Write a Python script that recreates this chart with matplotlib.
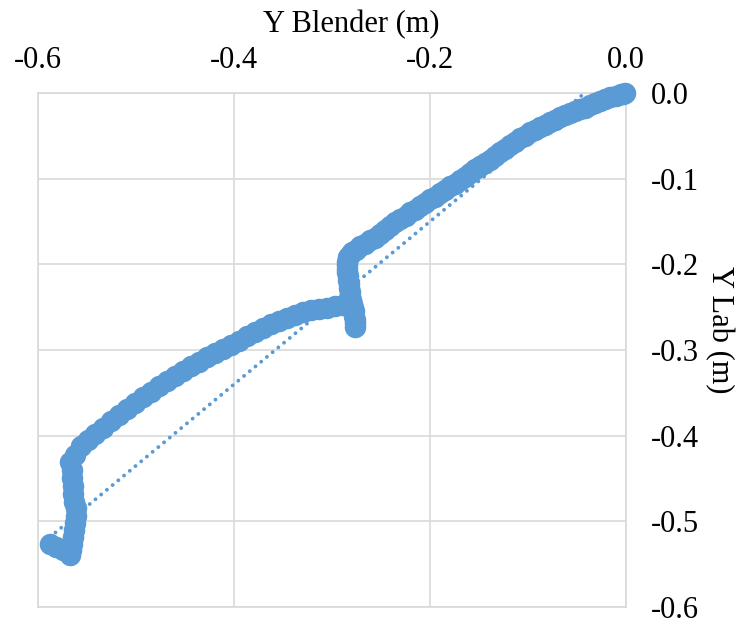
import numpy as np
import matplotlib.pyplot as plt

# points, in metres
upper_x = [-0.001, -0.003, -0.005, -0.010, -0.016, -0.021, -0.027, -0.032, -0.037, -0.042,
           -0.047, -0.052, -0.057, -0.062, -0.067, -0.072, -0.078, -0.083, -0.088, -0.093,
           -0.098, -0.103, -0.108, -0.113, -0.118, -0.123, -0.129, -0.134, -0.139, -0.144,
           -0.149, -0.154, -0.159, -0.164, -0.169, -0.174, -0.180, -0.185, -0.190, -0.195,
           -0.200, -0.205, -0.210, -0.215, -0.220, -0.225, -0.231, -0.236, -0.241, -0.246,
           -0.251, -0.256, -0.261, -0.266, -0.271, -0.276, -0.280, -0.282, -0.284]
upper_y = [0.000, -0.001, -0.001, -0.003, -0.005, -0.007, -0.009, -0.012, -0.014, -0.017,
           -0.019, -0.021, -0.023, -0.026, -0.028, -0.031, -0.034, -0.037, -0.040, -0.043,
           -0.046, -0.050, -0.053, -0.057, -0.061, -0.065, -0.069, -0.074, -0.078, -0.082,
           -0.085, -0.089, -0.093, -0.098, -0.102, -0.106, -0.109, -0.113, -0.117, -0.121,
           -0.124, -0.128, -0.132, -0.136, -0.139, -0.143, -0.147, -0.151, -0.155, -0.160,
           -0.165, -0.169, -0.172, -0.176, -0.179, -0.183, -0.186, -0.189, -0.192]

step_x = [-0.285, -0.285, -0.285, -0.285, -0.284, -0.284, -0.283, -0.283, -0.282,
          -0.282, -0.281, -0.280, -0.279, -0.278, -0.278, -0.277, -0.277, -0.277]
step_y = [-0.197, -0.201, -0.205, -0.209, -0.214, -0.218, -0.223, -0.228, -0.232,
          -0.237, -0.242, -0.246, -0.251, -0.255, -0.260, -0.265, -0.269, -0.273]

lower_x = [-0.289, -0.297, -0.305, -0.313, -0.321, -0.330, -0.338, -0.346, -0.354, -0.362,
           -0.370, -0.379, -0.387, -0.395, -0.403, -0.411, -0.419, -0.428, -0.436, -0.444,
           -0.452, -0.460, -0.468, -0.477, -0.485, -0.493, -0.501, -0.509, -0.517, -0.526,
           -0.534, -0.542, -0.549, -0.556, -0.562, -0.567]
lower_y = [-0.247, -0.249, -0.251, -0.252, -0.253, -0.256, -0.259, -0.263, -0.266, -0.270,
           -0.274, -0.279, -0.284, -0.289, -0.294, -0.299, -0.303, -0.308, -0.314, -0.319,
           -0.324, -0.330, -0.336, -0.342, -0.349, -0.355, -0.362, -0.369, -0.376, -0.383,
           -0.391, -0.398, -0.405, -0.412, -0.422, -0.431]

tail_x = [-0.565, -0.565, -0.564, -0.564, -0.563, -0.561, -0.561, -0.562, -0.563, -0.564,
          -0.565, -0.566, -0.567, -0.574, -0.582, -0.588]
tail_y = [-0.440, -0.449, -0.459, -0.468, -0.477, -0.485, -0.494, -0.502, -0.510, -0.518,
          -0.526, -0.533, -0.539, -0.533, -0.530, -0.526]

# linear trendline as shown on the chart (slope, intercept)
trend = [0.95, 0.04]

ticks = [-0.6, -0.5, -0.4, -0.3, -0.2, -0.1, 0.0]
x_tick_labels = ["-0.6", "-0.4", "-0.2", "0.0"]
y_tick_labels = ["-0.6", "-0.5", "-0.4", "-0.3", "-0.2", "-0.1", "0.0"]

x = np.array(upper_x + step_x + lower_x + tail_x)
y = np.array(upper_y + step_y + lower_y + tail_y)

blue = "#5B9BD5"
grey = "#D9D9D9"
plt.rcParams['font.family'] = ['Liberation Serif', 'DejaVu Serif']

fig = plt.figure(figsize=(7.36, 6.26), dpi=100)
ax = fig.add_axes([38/736, 19/626, 588/736, 514/626])

ax.scatter(x, y, s=240, color=blue, linewidths=0, zorder=3, clip_on=False)

xt = np.array([x.min(), x.max()])
ax.plot(xt, np.polyval(trend, xt), color=blue, lw=2.8, linestyle=(0, (0.01, 1.9)),
        dash_capstyle='round', zorder=2)

ax.set_xlim(-0.6, 0.0)
ax.set_ylim(-0.6, 0.0)
ax.set_xticks(ticks[::2])
ax.set_xticklabels(x_tick_labels)
ax.set_yticks(ticks)
ax.set_yticklabels(y_tick_labels)
ax.xaxis.tick_top()
ax.yaxis.tick_right()
ax.tick_params(axis='x', length=0, pad=13, labelsize=22)
ax.tick_params(axis='y', length=0, pad=18, labelsize=22)
ax.grid(True, color=grey, lw=1.2, zorder=0)
ax.set_axisbelow(True)
for s in ax.spines.values():
    s.set_color(grey)
    s.set_linewidth(1.2)

fig.text(351/736, 1 - 25/626, "Y Blender (m)", ha='center', va='center', fontsize=22)
fig.text(719/736, 1 - 330/626, "Y Lab (m)", ha='center', va='center', fontsize=22,
         rotation=-90)

fig.savefig("out.png", dpi=100)
